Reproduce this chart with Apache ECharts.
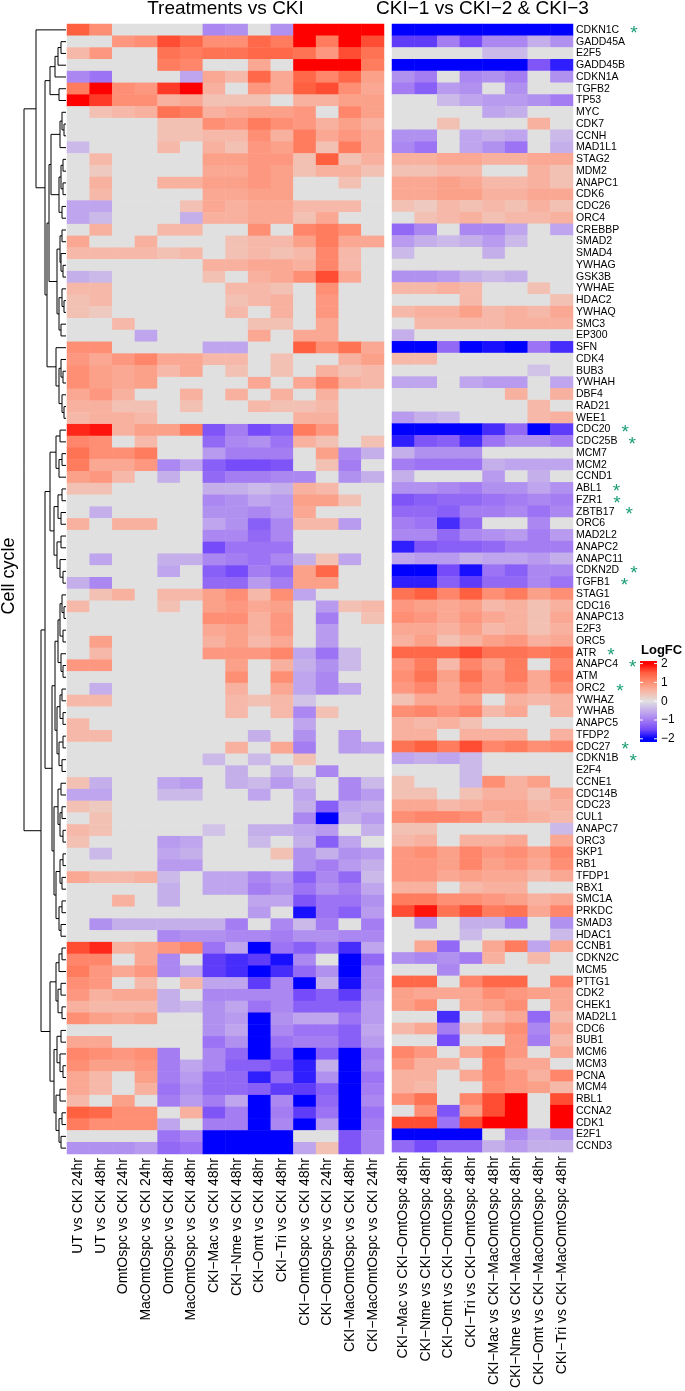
<!DOCTYPE html>
<html><head><meta charset="utf-8">
<script src="https://cdn.jsdelivr.net/npm/echarts/dist/echarts.min.js"></script>
<style>html,body{margin:0;padding:0;background:#fff}#chart{width:685px;height:1391px}</style>
</head><body><div id="chart"></div>
<script>
const genes = ["CDKN1C","GADD45A","E2F5","GADD45B","CDKN1A","TGFB2","TP53","MYC","CDK7","CCNH","MAD1L1","STAG2","MDM2","ANAPC1","CDK6","CDC26","ORC4","CREBBP","SMAD2","SMAD4","YWHAG","GSK3B","YWHAE","HDAC2","YWHAQ","SMC3","EP300","SFN","CDK4","BUB3","YWHAH","DBF4","RAD21","WEE1","CDC20","CDC25B","MCM7","MCM2","CCND1","ABL1","FZR1","ZBTB17","ORC6","MAD2L2","ANAPC2","ANAPC11","CDKN2D","TGFB1","STAG1","CDC16","ANAPC13","E2F3","ORC5","ATR","ANAPC4","ATM","ORC2","YWHAZ","YWHAB","ANAPC5","TFDP2","CDC27","CDKN1B","E2F4","CCNE1","CDC14B","CDC23","CUL1","ANAPC7","ORC3","SKP1","RB1","TFDP1","RBX1","SMC1A","PRKDC","SMAD3","HDAC1","CCNB1","CDKN2C","MCM5","PTTG1","CDK2","CHEK1","MAD2L1","CDC6","BUB1","MCM6","MCM3","PCNA","MCM4","RBL1","CCNA2","CDK1","E2F1","CCND3"];
const starredGenes = ["CDKN1C","CDC20","CDC25B","ABL1","FZR1","ZBTB17","CDKN2D","TGFB1","ATR","ANAPC4","ORC2","CDC27","CDKN1B"];
const leftColumns = ["UT vs CKI 24hr","UT vs CKI 48hr","OmtOspc vs CKI 24hr","MacOmtOspc vs CKI 24hr","OmtOspc vs CKI 48hr","MacOmtOspc vs CKI 48hr","CKI−Mac vs CKI 48hr","CKI−Nme vs CKI 48hr","CKI−Omt vs CKI 48hr","CKI−Tri vs CKI 48hr","CKI−OmtOspc vs CKI 48hr","CKI−OmtOspc vs CKI 24hr","CKI−MacOmtOspc vs CKI 48hr","CKI−MacOmtOspc vs CKI 24hr"];
const rightColumns = ["CKI−Mac vs CKI−OmtOspc 48hr","CKI−Nme vs CKI−OmtOspc 48hr","CKI−Omt vs CKI−OmtOspc 48hr","CKI−Tri vs CKI−OmtOspc 48hr","CKI−Mac vs CKI−MacOmtOspc 48hr","CKI−Nme vs CKI−MacOmtOspc 48hr","CKI−Omt vs CKI−MacOmtOspc 48hr","CKI−Tri vs CKI−MacOmtOspc 48hr"];
const panelTitles = ["Treatments vs CKI", "CKI−1 vs CKI−2 & CKI−3"];
const rowTitle = "Cell cycle";
const legendBreaks = [2, 1, 0, -1, -2];

const leftLogFC = [
[1.5,1.0,0,0,0,0,-0.9,-0.8,0,-0.8,2.5,2.5,2.5,2.5],
[0,0,0.9,1.0,1.6,1.4,1.0,1.0,1.4,1.2,2.2,1.2,2.2,1.6],
[0.5,0.9,0,0,1.3,1.2,1.3,1.3,1.4,1.4,1.3,0.9,1.6,1.3],
[0,0,0,0,1.2,1.1,0,0,0.7,0,2.2,2.0,2.2,1.2],
[-0.9,-1.1,0,0,0,-0.6,0.7,0.5,1.4,0.7,1.4,1.1,1.4,0.8],
[1.2,2.2,1.0,0.9,1.7,2.3,0.6,0,0.9,0.7,1.5,1.6,1.0,0.7],
[2.3,1.7,1.0,1.0,0.6,0.7,0.4,0.4,0.4,0,0.6,0.6,0.8,0.8],
[0,0.4,0.5,0.6,1.3,1.2,0.6,0.7,0.8,0.8,0.9,0,1.1,0.8],
[0,0,0,0,0.4,0.4,1.0,0.9,1.2,1.0,0.9,0.6,0.8,0.6],
[0,0,0,0,0.4,0.4,0.5,0.5,1.0,0.6,1.2,0.7,0.9,0.7],
[-0.4,0,0,0,0.5,0,0.6,0.4,0.9,0.8,1.2,0.4,1.2,0.7],
[0,0.5,0,0,0,0,0.8,0.8,0.9,0.9,0.4,1.5,0.4,0.6],
[0,0.3,0,0,0,0,0.7,0.7,0.9,0.8,0.4,0.6,0.6,0.4],
[0,0.6,0,0,0.6,0.6,0.8,0.8,0.9,0.8,0,0,0.4,0],
[0,0.5,0,0,0,0,0.7,0.7,0.8,0.8,0,0,0,0],
[-0.6,-0.6,0,0,0,0.4,0.7,0.6,0.7,0.7,0.5,0.5,0.5,0],
[-0.6,-0.4,0,0,0,-0.5,0.6,0.6,0.7,0.7,0.4,0.7,0,0],
[0,0.6,0,0,0.5,0.5,0,0,1.0,0,1.1,1.2,1.0,0],
[0.7,0,0,0.6,0,0,0,0.4,0.5,0.5,0.8,1.2,0.7,0.7],
[0.5,0.5,0.5,0.5,0.4,0.5,0,0.4,0.5,0.4,0.5,1.1,0.5,0],
[0,0,0,0,0,0,0.6,0.6,0.7,0.7,0.6,1.1,0.5,0],
[-0.5,-0.4,0,0,0,0,0.4,0,0.6,0.7,1.0,1.6,0.7,0],
[0.5,0.5,0,0,0,0,0,0.5,0.5,0.4,0,1.0,0,0],
[0.4,0.5,0,0,0,0,0,0.4,0.5,0.6,0,0.9,0,0],
[0.4,0.3,0,0,0,0,0,0.5,0,0.6,0,0.9,0,0],
[0,0,0.5,0,0,0,0,0,0.4,0.4,0,0.7,0,0],
[0,0,0,-0.6,0,0,0,0,0.7,0,0.7,0.7,0,0],
[1.0,1.0,0,0,0,0,-0.6,-0.6,0,0,1.5,1.0,1.3,0.7],
[0.9,0.7,0.9,1.1,0.7,0.7,0.5,0.5,0,0.4,0,0,0.6,0.8],
[1.0,0.8,0.7,0.8,0.5,0.7,0,0.4,0,0.4,0,0.6,0.4,0.5],
[1.0,0.8,0.7,0.8,0,0,0,0,0.7,0,0.7,1.1,0.6,0.5],
[0.7,0.9,0.6,0,0,0.6,0,0.6,0,0.6,0,0.6,0,0],
[0.6,0.6,0.4,0.4,0,0.4,0,0,0.5,0.4,0.4,0.5,0,0],
[0.5,0.6,0.6,0.5,0,0,0,0,0,0,0.6,0.6,0,0],
[1.8,1.9,0.6,0.8,0.8,1.2,-1.4,-1.0,-1.5,-1.3,1.2,0.9,0,0],
[1.1,1.0,0,0.5,0,0,-1.2,-0.9,-0.8,-1.1,0.6,0.4,0,0.4],
[1.3,1.0,1.0,1.2,0,0,-0.7,-1.0,-1.0,-1.0,0,0.8,-0.9,-0.5],
[1.2,0.7,0.7,0.9,-0.9,-0.6,-1.3,-1.5,-1.5,-1.4,0,0.4,-1.0,0],
[0.8,0.9,0.5,0,-0.5,0,-1.2,-1.0,-1.0,-0.9,-0.9,0,-0.8,-0.5],
[0.4,0.4,0,0,0,0,-0.5,-0.5,-0.4,-0.5,0.6,0.5,0,0],
[0,0,0,0,0,0,-0.9,-0.8,-0.6,-0.7,0.8,0.8,0.4,0],
[0,-0.5,0,0,0,0,-0.8,-0.8,-0.9,-0.7,0.7,0,0,0],
[0.6,0,0.6,0.6,0,0,-0.6,-0.8,-1.3,-0.9,0.5,0.5,-0.7,0],
[0,0,0,0,0,0,-0.9,-0.9,-1.2,-0.9,0,0,0,0],
[0,0,0,0,0,0,-1.5,-1.1,-1.1,-1.1,0,0,0,0],
[0,-0.6,0,0,-0.5,-0.5,-0.9,-1.0,-1.1,-0.9,-0.5,0.4,-0.6,0],
[0,0,0,0,-0.6,0,-1.3,-1.5,-1.0,-1.2,0.8,1.4,0,0],
[-0.5,-0.9,0,0,0,0,-1.2,-1.2,-0.7,-1.0,0.8,0.8,0,0],
[0,0.4,0.6,0,0.5,0.5,0.8,1.0,0.5,1.0,-0.6,0,0,0],
[0.5,0,0,0,0.4,0,0.8,0.9,0.7,0.8,0,-0.7,0.4,0.5],
[0,0,0,0,0,0,1.0,1.0,0.6,0.9,0,-1.0,0,0.4],
[0,0,0,0,0,0,0.7,0.8,0.6,0.9,0,-0.7,0,0],
[0,0.8,0,0,0,0,0.6,0.8,0.5,0.7,0,-0.7,0,0],
[0,0.5,0,0,0,0,0.9,0.9,0.9,1.1,-0.6,-1.1,-0.4,0],
[0.9,0.9,0,0,0,0,0,0.8,0,0.6,-0.5,-0.8,-0.4,0],
[0,0,0,0,0,0,0,1.0,0,1.0,-0.6,-0.9,0,0],
[0,-0.5,0,0,0,0,0,0.6,0,0.7,-0.6,-0.9,-0.6,0],
[0.5,0.5,0,0,0,0,0,0.5,0.4,0.5,-0.3,0,0,0],
[0,0,0,0,0,0,0,0.5,0,0.5,-0.9,0.4,0,0],
[0.5,0,0,0,0,0,0,0,0,0,-0.6,0,0,0],
[0.5,0.5,0,0,0,0,0,0,-0.5,0,-0.8,0,-0.7,0],
[0,0,0,0,0,0,0,0.6,0,0.7,-1.0,0,-0.7,-0.6],
[0,0,0,0,0,0,-0.4,0,-0.4,0,0.4,0,0,0],
[0,0,0,0,0,0,0,-0.5,0,-0.5,0,-0.9,0,0],
[0.4,-0.5,0,0,-0.6,-0.7,0,-0.5,-0.4,-0.7,-0.4,0,-0.9,-0.4],
[-0.6,-0.6,0,0,-0.4,-0.4,0,0,-0.6,0,-0.6,0,-0.9,-0.7],
[0.4,0.3,0,0,0,0,0,0,0,0,-0.5,-1.3,-0.6,-0.5],
[0,0.4,0,0,0,0,0,0,0,0,-0.9,-2.0,-0.5,-0.7],
[0.5,0.4,0,0,0,0,-0.3,0,-0.5,-0.5,-0.6,-0.7,0,-0.5],
[0.4,0,0,0,-0.7,-0.6,0,0,-0.4,0,-0.5,-1.3,-0.6,0],
[0,-0.4,0,0,-0.6,-0.5,0,0,0,0.4,-0.8,-0.5,-0.8,-0.7],
[0,0,0,0,-0.7,-0.7,0,0,0,0,-0.8,-1.0,-0.7,-0.5],
[0.7,0.5,0.5,0.6,-0.4,0,-0.6,-0.6,-0.9,-0.7,-1.3,-0.9,-1.2,-0.4],
[0,0,0,0,-0.5,0,-0.6,-0.6,-1.0,-0.8,-1.1,-0.8,-1.0,-0.6],
[0,0,0.6,0,-0.5,0,0,0,-0.6,-0.6,-1.4,-1.1,-1.1,-0.8],
[0,0,0,0,0,0,0,0,-0.7,0,-1.9,-1.1,-1.3,-0.7],
[0,-0.8,-0.5,-0.5,-0.5,-0.5,-0.5,-1.0,0,-0.9,-0.4,-1.0,0,-1.0],
[0,0,0,0,-0.9,-0.8,-0.8,-0.9,-0.9,-1.0,-0.8,-0.8,-0.9,-0.9],
[1.6,1.8,0.6,0.7,0.9,1.1,-1.1,-0.6,-2.5,-1.1,-1.3,-1.0,-1.7,-0.6],
[1.1,1.1,0,0.7,-0.9,0,-1.6,-1.7,-1.6,-1.9,-0.9,0,-2.3,-1.2],
[1.2,0.9,0.7,0.9,-0.9,-0.6,-1.6,-1.7,-2.5,-1.7,-1.2,-0.8,-2.5,-0.9],
[1.0,0.9,0,0.5,0,0.5,-0.6,-0.6,-1.6,-0.9,-2.0,-0.5,-1.9,-0.9],
[0.9,0.6,0.7,0.7,-0.5,0,-0.9,-0.9,-0.9,-0.9,-1.5,-1.3,-1.6,-0.8],
[0.6,0.5,0.5,0.5,-0.5,-0.4,-0.8,-0.6,-1.1,-0.9,-1.3,-1.3,-1.3,-0.7],
[1.0,0.8,0.7,0.8,0,0,-0.8,-0.7,-2.5,-0.8,-0.6,-0.6,-1.1,-0.7],
[0,0,0,0,0,0,-0.8,-0.6,-2.5,-0.9,-1.1,-1.1,-1.3,-0.6],
[0.7,0.7,0,0,0,0,-1.1,-0.8,-2.5,-1.1,-1.0,-1.0,-1.3,-0.7],
[1.1,1.0,0.9,1.0,-1.0,0,-0.9,-1.2,-2.2,-1.3,-2.0,-1.3,-2.2,-1.0],
[1.0,0.8,0.8,0.9,-1.0,-0.6,-0.9,-1.3,-1.3,-1.5,-1.8,-0.5,-2.0,-0.9],
[0.7,0.5,0,0.8,-1.0,-0.7,-1.2,-1.2,-1.8,-1.2,-1.8,-0.8,-2.5,-1.1],
[0.7,0.5,0,0.6,-1.1,-0.8,-1.2,-1.2,-1.3,-1.6,-1.6,-1.3,-2.5,-1.0],
[0.5,0,0.8,0,-1.0,-0.7,-1.0,-0.6,-2.5,-0.9,-2.1,-1.2,-2.5,-0.9],
[1.5,1.4,1.0,1.0,0,0.6,-1.4,-1.0,-2.5,-1.0,-1.6,-1.1,-2.5,-1.1],
[1.2,1.0,1.0,1.0,-0.6,0,-1.0,-1.0,-2.5,-0.9,-2.5,-0.7,-2.5,-1.0],
[0,0,0,0,-1.1,-0.9,-2.5,-2.5,-2.5,-2.5,0,0,-1.4,-0.9],
[-0.8,-0.8,-0.8,-0.7,-1.2,-1.1,-2.1,-2.5,-2.2,-2.2,-0.6,0.4,-1.4,-0.9]
];

const rightLogFC = [
[-2.5,-2.5,-2.5,-2.5,-2.5,-2.5,-2.5,-2.5],
[-1.6,-1.6,-1.0,-1.5,-0.9,-0.9,-0.5,-0.8],
[0,0,0,0,-0.4,-0.4,0,0],
[-2.5,-2.5,-2.5,-2.5,-2.5,-2.5,-1.4,-1.8],
[-0.8,-1.0,0,-0.9,-0.8,-1.0,0,-0.8],
[-1.0,-1.3,-0.7,-0.8,0,-0.8,0,0],
[0,0,-0.4,-0.6,-0.7,-0.7,-0.8,-1.0],
[0,0,0,0,-0.6,-0.5,0,0],
[0,0,0.4,0,0,0,0.6,0],
[-0.8,-0.8,0,-0.6,-0.5,-0.6,0,-0.4],
[-0.9,-1.1,0,-0.6,-0.8,-1.1,0,-0.5],
[0.6,0.6,0.7,0.7,0.6,0.6,0.7,0.7],
[0.4,0.4,0.5,0.5,0,0,0.6,0.4],
[0.7,0.7,0.8,0.7,0.5,0.5,0.6,0.4],
[0.7,0.7,0.8,0.8,0.6,0.6,0.7,0.7],
[0.4,0.3,0.5,0.4,0.5,0.4,0.6,0.4],
[0,0.4,0.5,0.6,0.4,0.5,0.5,0.6],
[-1.2,-0.9,0,-0.9,-0.9,-0.6,0,-0.6],
[-0.7,-0.5,-0.4,-0.5,-0.7,-0.4,0,0],
[-0.4,0,0,0,-0.5,0,0,0],
[0,0,0,0,0,0,0,0],
[-0.8,-0.8,-0.7,-0.5,-0.4,-0.5,0,0],
[0.5,0.5,0.6,0.5,0,0,0.4,0],
[0,0,0,0.5,0,0,0,0.4],
[0.5,0.6,0.6,0.8,0.5,0.6,0.5,0.7],
[0,0.5,0.5,0.5,0.5,0.6,0.6,0.6],
[-0.5,0,0,0,0,0,0,0],
[-2.3,-2.6,-1.2,-2.0,-1.9,-2.0,-1.1,-1.7],
[0.5,0.5,0,0,0,0,0,0],
[0,0,0,0,0,0,-0.3,0],
[-0.6,-0.6,0,-0.6,-0.7,-0.7,0,-0.6],
[0,0,0,0,0,0.6,0,0.6],
[0,0,0,0,0,0,0.5,0],
[-0.7,-0.5,-0.4,0,0,0,0.5,0.6],
[-2.5,-2.5,-2.5,-2.5,-1.7,-1.2,-2.0,-1.6],
[-1.8,-1.4,-1.3,-1.7,-1.1,-0.8,-0.8,-1.0],
[-0.5,-0.8,-0.8,-0.8,0,0,0,0],
[-1.0,-1.1,-1.1,-1.1,-0.5,-0.6,-0.6,-0.6],
[-0.5,0,0,0,-0.7,0,-0.5,0],
[-0.8,-0.8,-0.9,-1.0,-0.8,-0.8,-0.6,-0.8],
[-1.4,-1.3,-1.2,-1.2,-1.1,-1.0,-0.9,-1.0],
[-1.2,-1.2,-1.3,-1.0,-1.0,-0.9,-1.1,-0.9],
[-1.0,-1.1,-1.7,-1.2,0,0,-0.9,0],
[-0.9,-0.9,-1.2,-0.9,-0.8,-0.7,-1.0,-0.7],
[-1.8,-1.4,-1.3,-1.3,-1.2,-1.0,-1.0,-1.0],
[-0.6,-0.7,-0.7,-0.5,-0.6,-0.6,-0.7,-0.5],
[-2.0,-2.5,-1.5,-1.9,-1.1,-1.3,-0.9,-0.9],
[-1.8,-1.8,-1.3,-1.6,-1.2,-1.2,-0.9,-1.1],
[1.3,1.5,1.1,1.5,1.0,1.2,0.8,1.0],
[0.9,0.8,0.7,0.8,0.5,0.6,0.4,0.6],
[1.0,0.9,0.7,0.9,0.7,0.6,0.4,0.7],
[0.7,0.7,0.6,0.8,0.5,0.6,0.4,0.6],
[0.6,0.8,0.4,0.6,0.8,0.9,0.6,0.7],
[1.4,1.4,1.4,1.6,1.3,1.3,1.2,1.3],
[0.9,1.2,0.5,1.1,0.8,1.2,0,1.1],
[1.0,1.3,0.8,1.3,0.9,1.2,0.7,1.2],
[0.9,1.1,0.7,1.1,0.9,1.0,0.7,1.0],
[0.4,0.7,0.7,0.8,0,0.6,0.5,0.6],
[1.0,1.1,0.9,1.1,0.5,0.7,0,0.6],
[0.6,0.5,0.6,0.4,0,0,0,0],
[0.6,0.6,0,0.6,0.6,0.6,0,0.6],
[1.3,1.5,1.2,1.6,1.1,1.2,1.0,1.1],
[-0.6,-0.5,-0.6,-0.4,0,0,0,0],
[0,0,0,-0.4,0,0,0,0],
[0.4,0,0,-0.4,1.0,0.6,0.8,0],
[0.4,0.4,0,0.4,0.6,0.6,0.4,0.7],
[0.7,0.7,0.5,0.6,0.7,0.7,0.5,0.6],
[1.0,1.1,1.1,1.0,0.6,0.7,0.6,0.5],
[0.4,0.4,0,0,0,0,0,-0.4],
[0.5,0.6,0,0.6,0.6,0.7,0,0.7],
[0.9,1.0,0.8,1.1,0.9,1.0,0.8,1.1],
[0.9,0.9,0.8,1.1,0.8,0.9,0.7,1.0],
[0.9,0.9,0.7,0.8,0.7,0.7,0.5,0.7],
[0.6,0.6,0,0.5,0.6,0.6,0,0],
[1.2,1.2,1.0,1.0,0.9,0.8,0.6,0.7],
[1.6,1.9,1.3,1.6,1.2,1.3,0.7,1.1],
[0,-0.8,0,-0.5,-0.5,-1.0,0,-0.8],
[0,0,0,-0.4,0,0,0,-0.4],
[0,0.7,-1.2,0,0.7,1.2,-0.6,0.7],
[-0.8,-0.9,-0.8,-1.0,0.6,0,0.5,0],
[0,0,-0.9,0,0,0,0,0],
[1.4,1.4,0,1.1,1.4,1.4,0,1.1],
[0.8,0.7,0.7,0.7,1.0,0.9,0.8,0.7],
[0.8,1.0,0,0.7,0.8,1.0,0,0.7],
[0,0,-1.7,0,0.5,0.7,-1.2,0.5],
[0.5,0.7,-1.0,0.4,0.8,1.0,-0.9,0.7],
[0,0,-1.5,0,0,0.9,-1.0,0.5],
[1.1,0.9,0,0.7,1.2,0.9,0,0.7],
[0.9,0.6,0.6,0,1.1,0.7,0.7,0],
[0.6,0.6,0,0.7,1.1,0.9,0.6,1.1],
[0.6,0.5,0,0,1.0,0.9,0.8,0.5],
[1.0,1.3,0,1.1,1.6,2.2,0,1.6],
[0,1.0,-1.4,0.8,1.6,2.5,0,2.0],
[1.6,1.6,-1.1,1.6,2.5,2.5,0,2.5],
[-2.0,-2.5,-2.5,-2.5,0,-0.9,-0.6,-0.8],
[-1.2,-1.5,-1.2,-1.2,-0.5,-0.7,-0.5,-0.5]
];

// Row dendrogram: [mergeHeight, left, right]; numbers are row indices
const dendrogramMerges =
[42,
  [30, 0,
    [21,
      [16, [11, [8, [5, 1, 2], 3], 4], [7, 5, 6]],
      [19,
        [17,
          [15, [6, [4, 7, [2, 8, 9]], 10], [7, [5, [3, 11, 12], [3, 13, 14]], [4, 15, 16]]],
          [9, [6, [4, 17, 18], [5, 19, [3, 20, 21]]], [7, [4, 22, [2, 23, 24]], [5, 25, 26]]]],
        [10, 27, [7, [5, 28, [3, 29, 30]], [4, 31, [2, 32, 33]]]]]]],
  [25,
    [21,
      [16, [10, [6, 34, 35], [7, [4, 36, 37], 38]], [12, [8, [4, 39, 40], [5, 41, 42]], [9, [5, 43, 44], [6, 45, [3, 46, 47]]]]],
      [14,
        [11, [8, [6, [4, 48, [2, 49, 50]], [3, 51, 52]], [5, 53, [3, 54, 55]]], [9, [6, [4, 56, 57], [3, 58, 59]], [7, [3, 60, 61], [4, 62, 63]]]],
        [12, [8, [5, 64, 65], [6, [4, 66, 67], [3, 68, 69]]], [10, [6, [3, 70, 71], [4, 72, 73]], [7, [4, 74, 75], [5, 76, 77]]]]]],
    [16, [10, [7, [4, 78, 79], 80], [8, [5, 81, 82], [4, 83, 84]]], [12, [9, [5, 85, 86], [6, 87, [3, 88, 89]]], [10, [6, 90, 91], [7, [4, 92, 93], [5, 94, 95]]]]]]];

const scaleValues = [-2, -1.5, -1, -0.5, 0, 0.5, 1, 1.5, 2];
const scaleColors = ['#0000FF','#764BF9','#A47DF3','#C5AFEB','#E0E0E0','#F6B9A9','#FF8F74','#FF6040','#FF0000'];

const FONT = '"Liberation Sans", Arial, Helvetica, sans-serif';
const clamp = v => Math.max(-2, Math.min(2, v));
const toCells = m => m.flatMap((row, i) => row.map((v, j) => [j, i, clamp(v)]));

const segs = [];
function layoutTree(node) {
  if (typeof node === 'number') return { y: node, h: 0 };
  const [h, a, b] = node;
  const la = layoutTree(a), lb = layoutTree(b);
  segs.push([h, la.y, h, lb.y]);
  segs.push([la.h, la.y, h, la.y]);
  segs.push([lb.h, lb.y, h, lb.y]);
  return { y: (la.y + lb.y) / 2, h };
}
layoutTree(dendrogramMerges);

const TOP = 24, H = 1130;
const chart = echarts.init(document.getElementById('chart'), null, { renderer: 'canvas' });

// legend geometry
const LG = { x: 640, y: 661, w: 17, h: 81, mid: 701.2, step: 18.8 };
const yOf = v => LG.mid - v * LG.step;
const gradStops = scaleValues.map((v, i) => ({ offset: Math.min(1, Math.max(0, (yOf(v) - LG.y) / LG.h)), color: scaleColors[i] })).reverse();
const legendEls = [
  { type: 'text', x: 641, y: 644, style: { text: 'LogFC', font: 'bold 13px ' + FONT, fill: '#000', textVerticalAlign: 'top' } },
  { type: 'rect', shape: { x: LG.x, y: LG.y, width: LG.w, height: LG.h },
    style: { fill: new echarts.graphic.LinearGradient(0, 0, 0, 1, [{offset:0,color:'#FF0000'}].concat(gradStops).concat([{offset:1,color:'#0000FF'}])) } }
];
legendBreaks.forEach(v => {
  const y = yOf(v);
  legendEls.push({ type: 'line', shape: { x1: LG.x, y1: y, x2: LG.x + 3, y2: y }, style: { stroke: '#fff', lineWidth: 1 } });
  legendEls.push({ type: 'line', shape: { x1: LG.x + LG.w - 3, y1: y, x2: LG.x + LG.w, y2: y }, style: { stroke: '#fff', lineWidth: 1 } });
  legendEls.push({ type: 'text', x: 661, y: y, style: { text: v < 0 ? '−' + Math.abs(v) : String(v), font: '12px ' + FONT, fill: '#000', textVerticalAlign: 'middle' } });
});

const option = {
  animation: false,
  backgroundColor: '#fff',
  grid: [
    { left: 67, top: TOP, width: 317, height: H },
    { left: 392, top: TOP, width: 181, height: H },
    { left: 24, top: TOP, width: 42, height: H }
  ],
  xAxis: [
    { type: 'category', gridIndex: 0, data: leftColumns, position: 'bottom',
      axisLine: { show: false }, axisTick: { show: false }, splitLine: { show: false },
      axisLabel: { rotate: 90, interval: 0, fontSize: 14, margin: 4, color: '#000', fontFamily: FONT } },
    { type: 'category', gridIndex: 1, data: rightColumns, position: 'bottom',
      axisLine: { show: false }, axisTick: { show: false }, splitLine: { show: false },
      axisLabel: { rotate: 90, interval: 0, fontSize: 14, margin: 4, color: '#000', fontFamily: FONT } },
    { type: 'value', gridIndex: 2, min: 0, max: 42, inverse: true, show: false }
  ],
  yAxis: [
    { type: 'category', gridIndex: 0, data: genes, inverse: true, show: false },
    { type: 'category', gridIndex: 1, data: genes, inverse: true, position: 'right',
      axisLine: { show: false }, axisTick: { show: false }, splitLine: { show: false },
      axisLabel: { interval: 0, fontSize: 10.5, margin: 3, color: '#000', fontFamily: FONT,
        formatter: g => starredGenes.includes(g) ? g + '{s|*}' : g,
        rich: { s: { color: '#1B9E77', fontSize: 19, fontFamily: FONT, padding: [7, 0, 0, 11], lineHeight: 12 } } } },
    { type: 'value', gridIndex: 2, min: -0.5, max: genes.length - 0.5, inverse: true, show: false }
  ],
  visualMap: { type: 'continuous', min: -2, max: 2, show: false, seriesIndex: [0, 1], inRange: { color: scaleColors } },
  series: [
    { type: 'heatmap', xAxisIndex: 0, yAxisIndex: 0, data: toCells(leftLogFC), itemStyle: { borderWidth: 0 }, emphasis: { disabled: true } },
    { type: 'heatmap', xAxisIndex: 1, yAxisIndex: 1, data: toCells(rightLogFC), itemStyle: { borderWidth: 0 }, emphasis: { disabled: true } },
    { type: 'custom', xAxisIndex: 2, yAxisIndex: 2, data: segs, encode: { x: [0, 2], y: [1, 3] },
      renderItem: (params, api) => {
        const p1 = api.coord([api.value(0), api.value(1)]);
        const p2 = api.coord([api.value(2), api.value(3)]);
        return { type: 'line', shape: { x1: p1[0], y1: p1[1], x2: p2[0], y2: p2[1] }, style: { stroke: '#000', lineWidth: 1 } };
      } }
  ],
  graphic: [
    { type: 'text', x: 225.5, y: 9, style: { text: panelTitles[0], font: '19px ' + FONT, fill: '#000', textAlign: 'center', textVerticalAlign: 'middle' } },
    { type: 'text', x: 482.5, y: 9, style: { text: panelTitles[1], font: '19px ' + FONT, fill: '#000', textAlign: 'center', textVerticalAlign: 'middle' } },
    { type: 'text', x: 9, y: 576, rotation: Math.PI / 2, style: { text: rowTitle, font: '18px ' + FONT, fill: '#000', textAlign: 'center', textVerticalAlign: 'middle' } }
  ].concat(legendEls)
};
chart.setOption(option);
</script>
</body></html>
